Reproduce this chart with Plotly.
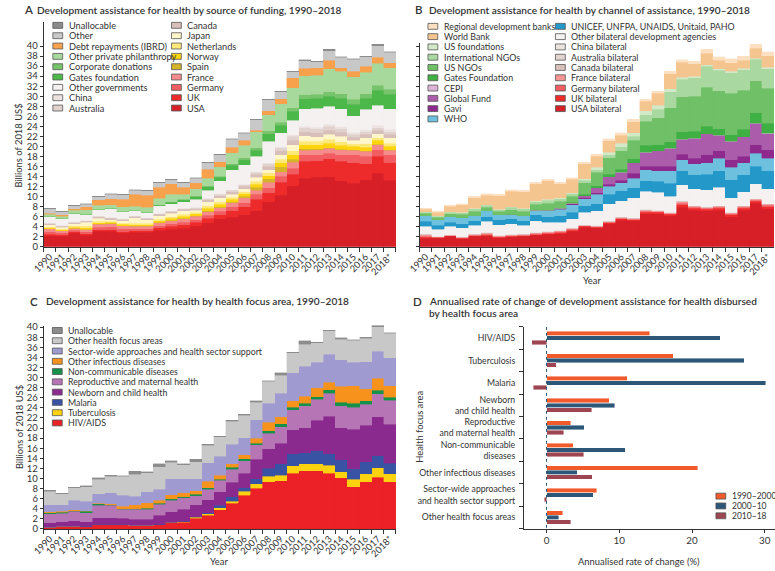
import plotly.graph_objects as go

W, H = 775, 571
def fx(p): return p / W
def fy(p): return 1 - p / H

FONT = "Lato"
TXT = "#333333"

year_labels = ["1990", "1991", "1992", "1993", "1994", "1995", "1996", "1997", "1998", "1999",
               "2000", "2001", "2002", "2003", "2004", "2005", "2006", "2007", "2008", "2009",
               "2010", "2011", "2012", "2013", "2014", "2015", "2016", "2017", "2018*"]
y_ticks = [0, 2, 4, 6, 8, 10, 12, 14, 16, 18, 20, 22, 24, 26, 28, 30, 32, 34, 36, 38, 40]

# ---------------- Panel A: source of funding (billions of 2018 US$) ----------------
a_usa = [2.2,2.1,2.7,2.3,3.1,3.1,2.75,2.9,2.9,3.3,3.5,3.7,4.2,4.8,5.6,5.9,6.4,7.2,9.0,10.3,12.2,13.7,13.9,14.0,13.2,12.7,13.4,14.7,13.3]
a_uk = [0.3,0.3,0.3,0.3,0.3,0.3,0.3,0.3,0.3,0.5,0.6,0.7,0.7,0.9,0.8,1.3,1.6,2.3,1.8,2.6,2.3,3.3,3.2,3.5,3.8,4.0,3.1,3.3,3.4]
a_germany = [0.5,0.4,0.3,0.4,0.5,0.6,0.5,0.4,0.4,0.4,0.5,0.5,0.5,0.6,0.7,0.8,0.8,1.0,1.0,1.2,1.2,1.3,1.2,1.1,1.3,1.6,1.5,1.3,1.6]
a_france = [0.6,0.4,0.4,0.5,0.6,0.6,0.6,0.5,0.5,0.6,0.6,0.7,0.7,0.7,0.7,0.8,1.0,0.8,1.1,0.9,1.1,0.9,1.0,1.0,1.0,0.9,1.0,1.0,0.9]
a_spain = [0.02,0.02,0.03,0.03,0.05,0.05,0.05,0.05,0.05,0.05,0.1,0.1,0.1,0.15,0.2,0.2,0.3,0.6,0.7,0.9,0.6,0.3,0.2,0.15,0.15,0.1,0.15,0.15,0.15]
a_norway = [0.15,0.15,0.2,0.25,0.25,0.2,0.25,0.25,0.25,0.3,0.35,0.4,0.35,0.5,0.5,0.5,0.5,0.6,0.6,0.8,0.9,0.8,0.8,0.9,0.8,0.7,0.7,0.8,0.7]
a_netherlands = [0.2,0.2,0.25,0.4,0.3,0.2,0.25,0.3,0.3,0.35,0.35,0.4,0.3,0.5,0.5,0.4,0.4,0.6,0.6,0.7,0.8,0.7,0.7,0.8,0.7,0.5,0.7,0.5,0.6]
a_japan = [0.43,0.33,0.42,0.72,0.6,0.35,0.5,1.1,0.7,0.7,0.7,0.7,0.45,0.85,0.8,0.6,0.6,0.8,0.6,0.9,1.2,1.1,0.9,0.95,1.05,0.7,1.15,0.75,1.05]
a_canada = [0.2,0.2,0.2,0.2,0.25,0.25,0.2,0.2,0.2,0.25,0.3,0.3,0.3,0.4,0.4,0.5,0.5,0.6,0.6,0.8,0.9,0.8,0.8,0.8,0.8,0.6,0.7,0.7,0.7]
a_australia = [0.1,0.1,0.1,0.1,0.15,0.15,0.15,0.15,0.15,0.15,0.15,0.15,0.2,0.2,0.25,0.3,0.3,0.35,0.5,0.6,0.8,0.8,0.8,0.8,0.7,0.6,0.5,0.5,0.5]
a_china = [0.05,0.05,0.05,0.05,0.05,0.05,0.05,0.05,0.05,0.05,0.05,0.05,0.05,0.05,0.1,0.1,0.1,0.15,0.2,0.2,0.3,0.3,0.3,0.4,0.4,0.4,0.4,0.5,0.5]
a_other_gov = [1.25,1.35,1.75,1.25,1.25,1.85,1.4,1.0,1.1,1.55,1.4,1.3,1.65,1.65,2.65,4.0,3.8,3.0,4.3,2.8,2.9,3.5,3.8,3.6,3.6,3.3,4.1,4.0,4.1]
a_gates = [0,0,0,0,0,0,0,0,0,0.05,0.3,0.4,0.5,0.7,0.7,0.8,1.0,1.2,1.5,1.5,1.8,2.0,2.0,2.0,2.1,2.3,2.2,3.0,2.9]
a_corporate = [0.1,0.1,0.1,0.1,0.1,0.1,0.1,0.1,0.1,0.1,0.1,0.1,0.2,0.2,0.2,0.3,0.4,0.5,0.6,0.6,0.7,0.8,0.8,0.9,0.9,1.0,0.9,1.0,1.0]
a_other_private = [0.35,0.35,0.5,0.75,0.8,0.6,0.9,0.8,0.9,1.3,1.5,1.0,1.4,1.5,1.8,2.2,2.5,3.2,3.2,3.7,4.0,3.8,3.8,4.6,4.5,4.5,4.3,4.4,4.3]
a_debt = [0.2,0.3,0.3,0.6,1.1,1.2,1.5,2.4,2.4,2.2,2.1,1.4,1.2,1.8,1.0,1.1,1.0,0.3,0.8,1.0,2.0,1.5,1.5,1.7,0.7,1.1,1.2,1.2,1.0]
a_other = [0.95,0.65,0.6,0.55,0.6,0.9,0.9,0.8,0.9,0.95,0.8,0.9,0.9,1.2,1.4,1.6,1.4,2.1,2.2,1.4,1.2,1.5,1.2,1.9,2.1,2.4,1.9,2.3,2.1]
a_unallocable = [0.1,0.1,0.1,0.1,0.1,0.1,0.1,0.1,0.1,0.1,0.1,0.1,0.1,0.1,0.1,0.1,0.1,0.1,0.1,0.1,0.1,0.2,0.1,0.3,0.1,0.1,0.1,0.3,0.1]

# ---------------- Panel B: channel of assistance ----------------
b_usa = [1.75,1.8,2.1,1.6,2.1,2.2,1.8,2.0,2.1,2.3,2.5,2.6,3.1,3.9,3.8,4.6,5.3,5.2,6.6,6.6,6.2,7.9,7.3,7.2,7.3,6.0,7.3,8.7,7.6]
b_uk = [0.15,0.08,0.08,0.1,0.12,0.15,0.12,0.12,0.12,0.15,0.15,0.2,0.2,0.15,0.12,0.2,0.25,0.2,0.3,0.25,0.25,0.5,0.35,0.3,0.35,0.35,0.35,0.35,0.4]
b_germany = [0.2,0.07,0.07,0.1,0.12,0.2,0.12,0.12,0.12,0.15,0.15,0.15,0.15,0.1,0.1,0.12,0.15,0.12,0.2,0.15,0.15,0.3,0.2,0.2,0.2,0.2,0.2,0.2,0.25]
b_france = [0.35,0.1,0.1,0.12,0.16,0.2,0.16,0.16,0.16,0.2,0.2,0.2,0.2,0.13,0.1,0.12,0.15,0.12,0.2,0.15,0.15,0.3,0.2,0.15,0.2,0.2,0.2,0.2,0.2]
b_canada = [0.08,0.03,0.03,0.04,0.05,0.08,0.05,0.05,0.05,0.05,0.05,0.08,0.08,0.06,0.07,0.08,0.08,0.08,0.1,0.07,0.07,0.1,0.08,0.08,0.08,0.08,0.08,0.08,0.08]
b_australia = [0.05,0.01,0.01,0.03,0.04,0.05,0.04,0.04,0.04,0.04,0.04,0.05,0.05,0.04,0.04,0.05,0.05,0.05,0.07,0.05,0.05,0.07,0.05,0.05,0.05,0.05,0.05,0.05,0.05]
b_china = [0.02,0.01,0.01,0.01,0.01,0.02,0.01,0.01,0.01,0.01,0.01,0.02,0.02,0.02,0.02,0.03,0.02,0.03,0.03,0.03,0.03,0.03,0.02,0.02,0.02,0.02,0.02,0.02,0.02]
b_other_bilateral = [1.45,1.4,1.65,1.8,1.65,2.2,2.1,2.1,1.65,2.3,1.8,1.6,1.75,2.5,2.95,3.4,3.2,4.0,3.6,3.6,3.2,3.2,3.4,3.4,3.7,2.9,2.8,3.0,3.0]
b_unicef = [1.05,0.75,0.85,0.8,0.95,0.9,0.95,0.95,0.95,1.2,1.1,1.3,1.35,1.3,1.4,1.9,2.0,2.0,2.1,2.2,2.6,2.8,2.8,3.1,3.3,3.6,3.4,3.4,3.6]
b_who = [1.1,1.1,1.1,1.15,1.0,1.2,1.05,0.95,1.0,0.9,1.2,1.3,1.5,1.4,1.9,1.6,1.6,1.9,2.2,2.1,2.5,2.1,2.1,2.2,2.4,2.4,2.3,2.6,2.4]
b_gavi = [0,0,0,0,0,0,0,0,0,0,0.1,0.2,0.2,0.2,0.3,0.4,0.5,1.0,0.6,0.8,0.8,1.1,1.1,1.6,1.5,1.5,1.3,1.7,1.7]
b_global_fund = [0,0,0,0,0,0,0,0,0,0,0,0,0.1,0.4,1.0,1.5,1.6,2.0,2.8,3.1,3.6,3.0,4.0,4.2,3.1,3.7,3.9,4.3,3.2]
b_cepi = [0,0,0,0,0,0,0,0,0,0,0,0,0,0,0,0,0,0,0,0,0,0,0,0,0,0,0,0.05,0.1]
b_gates = [0,0,0,0,0,0,0,0,0,0.05,0.1,0.1,0.2,0.3,0.4,0.5,0.6,0.8,1.4,1.2,1.3,1.5,1.4,1.5,1.3,1.3,1.5,2.1,2.0]
b_us_ngos = [0.45,0.5,0.6,0.7,0.9,0.7,0.65,0.9,0.9,1.1,1.3,1.25,1.2,2.3,2.7,3.2,3.6,3.7,4.8,5.4,6.8,7.0,7.0,7.8,7.6,8.3,7.8,6.3,7.0]
b_intl_ngos = [0.25,0.25,0.3,0.35,0.45,0.35,0.3,0.45,0.45,0.5,0.55,0.5,0.45,0.5,0.5,0.6,0.8,0.8,1.3,1.7,3.2,3.5,3.7,4.2,4.1,4.1,4.1,4.3,3.9]
b_us_foundations = [0.1,0.1,0.1,0.1,0.15,0.15,0.15,0.15,0.15,0.2,0.25,0.25,0.25,0.3,0.4,0.5,0.7,0.7,0.8,0.8,0.6,0.4,0.3,0.3,0.3,0.3,0.3,0.25,0.3]
b_world_bank = [0.5,0.7,1.1,1.5,2.1,1.9,2.7,3.1,3.3,3.45,3.7,2.8,2.7,2.9,2.2,2.3,1.6,2.2,1.9,2.4,3.0,3.0,2.5,2.3,1.7,1.7,1.6,2.0,2.3]
b_regional_banks = [0.2,0.2,0.2,0.2,0.3,0.3,0.3,0.3,0.3,0.3,0.3,0.3,0.3,0.3,0.4,0.4,0.5,0.5,0.4,0.4,0.5,0.5,0.5,0.8,0.7,0.8,0.8,0.8,0.8]

# ---------------- Panel C: health focus area ----------------
c_hiv = [0.26,0.45,0.45,0.4,0.8,0.8,0.8,0.65,0.65,0.8,1.2,1.3,2.1,2.7,3.8,5.1,6.7,8.1,9.3,9.5,11.0,11.5,11.5,11.0,10.1,8.4,9.3,10.2,9.3]
c_tb = [0.05,0.05,0.05,0.05,0.05,0.05,0.05,0.05,0.05,0.05,0.08,0.1,0.2,0.3,0.4,0.4,0.8,0.9,1.1,1.1,1.5,1.4,1.4,1.6,1.2,1.4,1.6,1.9,1.6]
c_malaria = [0.05,0.05,0.05,0.05,0.05,0.05,0.05,0.05,0.05,0.05,0.05,0.1,0.1,0.2,0.5,0.9,0.7,0.9,1.6,2.3,2.4,2.2,2.6,2.3,2.4,2.1,2.4,2.4,2.1]
c_newborn = [0.84,0.85,1.05,0.9,1.3,1.3,1.2,1.2,1.2,1.8,2.1,2.4,2.4,2.6,2.7,2.8,2.8,3.9,3.9,4.1,4.8,5.0,6.0,7.4,6.4,7.9,7.2,7.7,7.7]
c_reproductive = [1.85,1.7,1.85,1.8,2.5,2.5,1.8,1.9,1.95,2.2,2.25,2.3,1.8,2.1,2.2,2.6,2.5,2.9,3.1,3.3,3.9,4.3,4.2,4.6,4.3,4.3,4.2,4.6,4.8]
c_ncd = [0.2,0.2,0.15,0.25,0.3,0.1,0.1,0.1,0.2,0.2,0.3,0.2,0.3,0.3,0.2,0.4,0.4,0.3,0.5,0.5,0.5,0.5,0.5,0.7,0.7,0.8,0.7,0.7,0.6]
c_other_infectious = [0.15,0.15,0.2,0.15,0.1,0.2,0.5,0.85,1.1,0.55,0.8,0.8,0.7,1.2,0.8,0.7,0.8,1.0,1.6,1.4,1.3,1.4,1.8,1.5,3.2,3.5,2.4,2.4,2.3]
c_swaps = [1.4,1.35,1.85,1.9,1.9,2.15,2.2,1.65,2.15,2.25,3.15,2.75,2.35,3.7,3.8,3.9,3.4,3.6,3.8,4.7,5.6,5.9,5.0,5.5,5.2,4.6,5.3,5.3,5.5]
c_other_areas = [2.7,2.2,2.55,2.9,2.8,3.25,3.7,4.35,3.8,4.4,3.25,2.75,3.35,3.5,3.9,4.5,4.4,3.5,4.4,3.6,3.9,4.4,3.9,4.7,4.1,4.4,4.7,4.9,4.9]
c_unallocable = [0.2,0.1,0.1,0.2,0.3,0.2,0.1,0.6,0.15,0.6,0.3,0.2,0.5,0.2,0.1,0.2,0.2,0.3,0.1,0.5,0.1,0.7,0.1,0.1,0.3,0.1,0.2,0.3,0.1]

# ---------------- Panel D: annualised rate of change (%) ----------------
d_areas = ["HIV/AIDS", "Tuberculosis", "Malaria", "Newborn<br>and child health",
           "Reproductive<br>and maternal health", "Non-communicable<br>diseases",
           "Other infectious diseases", "Sector-wide approaches<br>and health sector support",
           "Other health focus areas"]
d_periods = ["1990–2000", "2000–10", "2010–18"]
d_1990_2000 = [14.2, 17.4, 11.1, 8.6, 3.3, 3.65, 20.8, 6.9, 2.2]
d_2000_10 = [23.9, 27.2, 30.1, 9.4, 5.2, 10.8, 4.2, 6.4, 1.7]
d_2010_18 = [-2.0, 1.35, -1.8, 6.2, 2.4, 5.1, 6.3, -0.3, 3.3]
d_colors = ["#f15a2b", "#2d5778", "#9d4651"]

# series definitions (bottom to top of stack)
A_SERIES = [
    ("USA", a_usa, "#d71f28"), ("UK", a_uk, "#ee2b2b"), ("Germany", a_germany, "#f15d60"),
    ("France", a_france, "#f58b8b"), ("Spain", a_spain, "#d5b42b"), ("Norway", a_norway, "#fdd40d"),
    ("Netherlands", a_netherlands, "#fde97a"), ("Japan", a_japan, "#fff6c9"),
    ("Canada", a_canada, "#d8bfb9"), ("Australia", a_australia, "#e2d2ce"), ("China", a_china, "#ece3e1"),
    ("Other governments", a_other_gov, "#f4f1f0"), ("Gates foundation", a_gates, "#4cb84a"),
    ("Corporate donations", a_corporate, "#78c46c"), ("Other private philanthropy", a_other_private, "#a8d99c"),
    ("Debt repayments (IBRD)", a_debt, "#f8a14d"), ("Other", a_other, "#c8c8c8"),
    ("Unallocable", a_unallocable, "#8c8c8c"),
]
B_SERIES = [
    ("USA bilateral", b_usa, "#d71f28"), ("UK bilateral", b_uk, "#ee2b2b"),
    ("Germany bilateral", b_germany, "#f15d60"), ("France bilateral", b_france, "#f59595"),
    ("Canada bilateral", b_canada, "#d8c1bb"), ("Australia bilateral", b_australia, "#e2d3cf"),
    ("China bilateral", b_china, "#ece3e1"), ("Other bilateral development agencies", b_other_bilateral, "#f4f1f0"),
    ("UNICEF, UNFPA, UNAIDS, Unitaid, PAHO", b_unicef, "#2498c9"), ("WHO", b_who, "#6dc1de"),
    ("Gavi", b_gavi, "#8e2a8e"), ("Global Fund", b_global_fund, "#ab5dab"), ("CEPI", b_cepi, "#deb3d8"),
    ("Gates Foundation", b_gates, "#3fb043"), ("US NGOs", b_us_ngos, "#6fc066"),
    ("International NGOs", b_intl_ngos, "#a9d9a0"), ("US foundations", b_us_foundations, "#d2e9c8"),
    ("World Bank", b_world_bank, "#f5c590"), ("Regional development banks", b_regional_banks, "#fde0c2"),
]
C_SERIES = [
    ("HIV/AIDS", c_hiv, "#ec2127"), ("Tuberculosis", c_tb, "#fdd20e"), ("Malaria", c_malaria, "#3953a4"),
    ("Newborn and child health", c_newborn, "#8b2a8e"), ("Reproductive and maternal health", c_reproductive, "#b675b4"),
    ("Non-communicable diseases", c_ncd, "#15924a"), ("Other infectious diseases", c_other_infectious, "#f7931d"),
    ("Sector-wide approaches and health sector support", c_swaps, "#9f9ad0"),
    ("Other health focus areas", c_other_areas, "#c8c8c8"), ("Unallocable", c_unallocable, "#8c8c8c"),
]

fig = go.Figure()

def add_stack(series, xa, ya):
    for name, vals, col in series:
        fig.add_trace(go.Bar(x=year_labels, y=vals, name=name, xaxis=xa, yaxis=ya,
                             marker=dict(color=col, line=dict(color=col, width=0.4)),
                             showlegend=False))

add_stack(A_SERIES, "x", "y")
add_stack(B_SERIES, "x2", "y2")
add_stack(C_SERIES, "x3", "y3")

d_vals = [d_1990_2000, d_2000_10, d_2010_18]
d_shift = [-0.205, 0.0, 0.205]
for k in range(3):
    fig.add_trace(go.Bar(
        y=[i + d_shift[k] for i in range(len(d_areas))], x=d_vals[k], orientation="h",
        width=0.2, name=d_periods[k], xaxis="x4", yaxis="y4", showlegend=False,
        marker=dict(color=d_colors[k], line=dict(color="rgba(255,255,255,0.7)", width=0.6))))

tickfont = dict(family=FONT, size=9.3, color=TXT)

def year_xaxis(x0, x1, anchor):
    return dict(domain=[fx(x0), fx(x1)], anchor=anchor, type="category", tickson="boundaries",
                ticks="outside", ticklen=4, tickwidth=1, tickcolor="#333", tickangle=-45,
                showline=True, linecolor="#333", linewidth=1, showgrid=False, zeroline=False,
                tickfont=tickfont, range=[-0.5, 28.5], fixedrange=True)

def val_yaxis(ytop, ybot, vtop, anchor, labels=True):
    return dict(domain=[fy(ybot), fy(ytop)], anchor=anchor, range=[0, vtop], tickmode="array",
                tickvals=y_ticks, ticks="outside", ticklen=3, tickcolor="#333", showline=True,
                linecolor="#333", linewidth=1, showgrid=False, zeroline=False,
                showticklabels=labels, tickfont=dict(family=FONT, size=9.5, color=TXT))

layout = dict(
    width=W, height=H, margin=dict(l=0, r=0, t=0, b=0), paper_bgcolor="white", plot_bgcolor="white",
    barmode="stack", bargap=0, showlegend=False, font=dict(family=FONT, color=TXT),
    xaxis=year_xaxis(32.3, 390, "y"),
    yaxis=val_yaxis(18, 246.7, (246.7 - 18) / 5.1, "x"),
    xaxis2=year_xaxis(414, 774, "y2"),
    yaxis2=val_yaxis(40, 246.7, (246.7 - 40) / 5.1, "x2", labels=False),
    xaxis3=year_xaxis(32.3, 390, "y3"),
    yaxis3=val_yaxis(326.7, 533.3, (533.3 - 326.7) / 5.125, "x3"),
    xaxis4=dict(domain=[fx(520), fx(775)], anchor="y4", range=[-3.1, 31.4], tickmode="array",
                tickvals=[0, 10, 20, 30], ticks="outside", ticklen=3, tickcolor="#333",
                showline=True, linecolor="#333", showgrid=False, zeroline=False,
                tickfont=dict(family=FONT, size=9.8, color=TXT)),
    yaxis4=dict(domain=[fy(533), fy(328)], anchor="x4", range=[8.5, -0.5], tickmode="array",
                tickvals=list(range(len(d_areas))), ticktext=d_areas, ticks="outside", ticklen=6,
                tickcolor="rgba(0,0,0,0)", showline=True, linecolor="#333", showgrid=False,
                zeroline=False, tickfont=dict(family=FONT, size=8.7, color=TXT),
                minor=dict(tickmode="array", tickvals=[i - 0.5 for i in range(len(d_areas) + 1)],
                           ticks="outside", ticklen=4, tickcolor="#333")),
)

shapes = []
annotations = []

def text(x, y, s, size=9, anchor="left", weight=400, angle=0, yanchor="middle"):
    annotations.append(dict(x=fx(x), y=fy(y), xref="paper", yref="paper", text=s, showarrow=False,
                            xanchor=anchor, yanchor=yanchor, textangle=angle,
                            align=anchor if anchor != "center" else "center",
                            font=dict(family=FONT, size=size, color=TXT, weight=weight)))

def legend(items, x_sw, y0, dy, size=9.0):
    for k, (name, col) in enumerate(items):
        yc = y0 + k * dy
        shapes.append(dict(type="rect", xref="paper", yref="paper", x0=fx(x_sw), x1=fx(x_sw + 10),
                           y0=fy(yc + 3), y1=fy(yc - 3), fillcolor=col,
                           line=dict(color="#555555", width=0.8), layer="above"))
        text(x_sw + 14, yc, name, size=size)

col_a = {n: c for n, _, c in A_SERIES}
col_b = {n: c for n, _, c in B_SERIES}
col_c = {n: c for n, _, c in C_SERIES}

a_left = ["Unallocable", "Other", "Debt repayments (IBRD)", "Other private philanthropy",
          "Corporate donations", "Gates foundation", "Other governments", "China", "Australia"]
a_right = ["Canada", "Japan", "Netherlands", "Norway", "Spain", "France", "Germany", "UK", "USA"]
legend([(n, col_a[n]) for n in a_left], 41.5, 21.7, 10.5, size=9.2)
legend([(n, col_a[n]) for n in a_right], 162, 21.7, 10.5, size=9.2)

b_left = ["Regional development banks", "World Bank", "US foundations", "International NGOs", "US NGOs",
          "Gates Foundation", "CEPI", "Global Fund", "Gavi", "WHO"]
b_right = ["UNICEF, UNFPA, UNAIDS, Unitaid, PAHO", "Other bilateral development agencies", "China bilateral",
           "Australia bilateral", "Canada bilateral", "France bilateral", "Germany bilateral",
           "UK bilateral", "USA bilateral"]
legend([(n, col_b[n]) for n in b_left], 422.5, 22.7, 10.45, size=8.9)
legend([(n, col_b[n]) for n in b_right], 552, 22.7, 10.45, size=8.9)

c_order = ["Unallocable", "Other health focus areas", "Sector-wide approaches and health sector support",
           "Other infectious diseases", "Non-communicable diseases", "Reproductive and maternal health",
           "Newborn and child health", "Malaria", "Tuberculosis", "HIV/AIDS"]
legend([(n, col_c[n]) for n in c_order], 41, 331.7, 10.44, size=8.8)

legend([(d_periods[k], d_colors[k]) for k in range(3)], 715, 500, 10, size=8.5)

# zero reference line in panel D
shapes.append(dict(type="line", xref="x4", yref="y4", x0=0, x1=0, y0=-0.5, y1=8.5,
                   line=dict(color="#2d5778", width=1, dash="dot"), layer="above"))

# panel titles
TS = 10.1
LS = 11.5
text(10, 6, "A", size=LS, weight=600)
text(23, 6, "Development assistance for health by source of funding, 1990–2018", size=TS, weight=600)
text(407, 6, "B", size=LS, weight=600)
text(422, 6, "Development assistance for health by channel of assistance, 1990–2018", size=TS, weight=600)
text(16, 302, "C", size=LS, weight=600)
text(32, 302, "Development assistance for health by health focus area, 1990–2018", size=TS, weight=600)
text(405, 302, "D", size=LS, weight=600)
text(422, 302, "Annualised rate of change of development assistance for health disbursed", size=TS, weight=600)
text(422, 314, "by health focus area", size=TS, weight=600)

# axis titles
text(7, 144, "Billions of 2018 US$", size=9.4, anchor="center", angle=-90)
text(7, 430, "Billions of 2018 US$", size=9.4, anchor="center", angle=-90)
text(589, 281, "Year", size=9.4, anchor="center")
text(210, 566, "Year", size=9.4, anchor="center")
text(637, 566, "Annualised rate of change (%)", size=9.4, anchor="center")
text(414, 430, "Health focus area", size=9.4, anchor="center", angle=-90)

layout["shapes"] = shapes
layout["annotations"] = annotations
fig.update_layout(**layout)

fig.write_html("out.html", include_plotlyjs=True, full_html=True,
               config={"displayModeBar": False, "staticPlot": True},
               post_script="document.body.style.margin='0';document.body.style.overflow='hidden';")
